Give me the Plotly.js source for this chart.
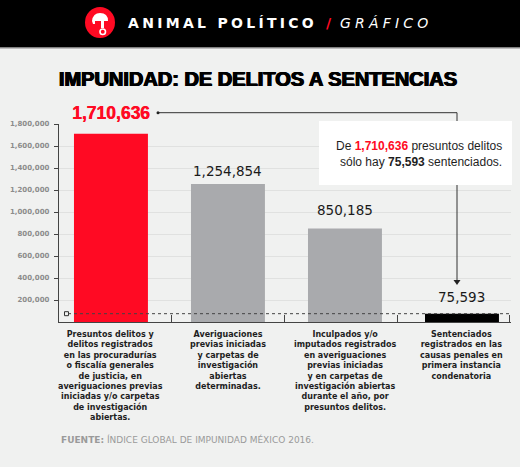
<!DOCTYPE html>
<html>
<head>
<meta charset="utf-8">
<script src="https://cdn.plot.ly/plotly-3.0.1.min.js"></script>
<style>
  html, body { margin: 0; padding: 0; background: #f0f1f0; }
  #chart { width: 520px; height: 467px; }
</style>
</head>
<body>
<div id="chart"></div>
<script>
// ---- Data ----
const CATEGORIES = [
  "Presuntos delitos y<br>delitos registrados<br>en las procuradurías<br>o fiscalía generales<br>de justicia, en<br>averiguaciones previas<br>iniciadas y/o carpetas<br>de investigación<br>abiertas.",
  "Averiguaciones<br>previas iniciadas<br>y carpetas de<br>investigación<br>abiertas<br>determinadas.",
  "Inculpados y/o<br>imputados registrados<br>en averiguaciones<br>previas iniciadas<br>y en carpetas de<br>investigación abiertas<br>durante el año, por<br>presuntos delitos.",
  "Sentenciados<br>registrados en las<br>causas penales en<br>primera instancia<br>condenatoria"
];
const VALUES = [1710636, 1254854, 850185, 75593];
const Y_TICKS = [200000, 400000, 600000, 800000, 1000000, 1200000, 1400000, 1600000, 1800000];
const TITLE = "IMPUNIDAD: DE DELITOS A SENTENCIAS";
const SOURCE = "<b>FUENTE:</b> ÍNDICE GLOBAL DE IMPUNIDAD MÉXICO 2016.";

// ---- Style ----
const RED = "#ff0a23";
const BAR_COLORS = [RED, "#a9aaad", "#a9aaad", "#000000"];
const BG = "#f0f1f0";
const IDX = CATEGORIES.map((_, i) => i);
const fmt = v => v.toLocaleString("en-US");

// plot area in pixels: x 59..511, y 124..322
const PL = 59, PR = 511, PT = 124, PB = 322;
const px = x => (x - PL) / (PR - PL);
const py = y => (PB - y) / (PB - PT);

const traces = [
  {
    type: "bar",
    x: IDX,
    y: VALUES,
    width: 0.632,
    marker: { color: BAR_COLORS, line: { width: 0 } },
    hoverinfo: "skip"
  },
  {
    type: "scatter",
    mode: "markers",
    x: [-0.38],
    y: [VALUES[3]],
    marker: { symbol: "square-open", size: 4, color: "#333", line: { width: 1, color: "#333" } },
    hoverinfo: "skip"
  }
];

const labelShift = [21, 13, 18, 17];
const valueAnnotations = VALUES.map((v, i) => ({
  x: IDX[i], y: v, xref: "x", yref: "y",
  text: i === 0 ? "<b>" + fmt(v) + "</b>" : fmt(v),
  showarrow: false, yanchor: "middle", yshift: labelShift[i],
  font: i === 0
    ? { family: "Liberation Sans, Arial, sans-serif", size: 17.5, color: RED, shadow: "0.5px 0 0 " + RED }
    : { family: "DejaVu Sans, sans-serif", size: 13.5, color: "#1a1a1a" }
}));

const catAnnotations = CATEGORIES.map((c, i) => ({
  x: IDX[i], y: py(328), xref: "x", yref: "paper",
  text: "<b>" + c + "</b>", showarrow: false, yanchor: "top", xanchor: "center", align: "center",
  font: { family: "DejaVu Sans, sans-serif", size: 8, color: "#1e1e1e" }
}));

const otherAnnotations = [
  {
    xref: "paper", yref: "paper", x: px(126), y: py(23), xanchor: "left", yanchor: "middle",
    showarrow: false,
    text: '<b><span style="letter-spacing:3.3px">ANIMAL POLÍTICO</span></b>' +
          '  <span style="color:' + RED + '"><b>/</b></span>  ' +
          '<i><span style="letter-spacing:4.2px">GRÁFICO</span></i>',
    font: { family: "DejaVu Sans, sans-serif", size: 14, color: "#ffffff" }
  },
  {
    xref: "paper", yref: "paper", x: px(504), y: py(154), xanchor: "right", yanchor: "middle",
    showarrow: false, align: "right",
    text: 'De <b><span style="color:' + RED + '">' + fmt(VALUES[0]) + '</span></b> presuntos delitos<br>sólo hay <b>' + fmt(VALUES[3]) + '</b> sentenciados.',
    font: { family: "Liberation Sans, Arial, sans-serif", size: 12, color: "#1e1e1e" }
  },
  {
    xref: "paper", yref: "paper", x: px(59), y: py(439), xanchor: "left", yanchor: "middle",
    showarrow: false, text: SOURCE,
    font: { family: "DejaVu Sans, sans-serif", size: 9, color: "#9a9a9a" }
  }
];

const P = (x, y) => px(x) + "," + py(y);
const shapes = [
  // header band
  { type: "rect", xref: "paper", yref: "paper", x0: px(-5), x1: px(525), y0: py(47.5), y1: py(-5),
    fillcolor: "#000", line: { width: 0 }, layer: "below" },
  { type: "line", xref: "paper", yref: "paper", x0: px(-5), x1: px(525), y0: py(48), y1: py(48),
    line: { color: "#8a8a8a", width: 1 } },
  // logo
  { type: "circle", xref: "paper", yref: "paper", x0: px(85), x1: px(115), y0: py(38), y1: py(7),
    fillcolor: RED, line: { width: 0 } },
  { type: "path", xref: "paper", yref: "paper",
    path: "M" + P(92, 21) + " Q" + P(93, 13) + " " + P(100, 13) + " Q" + P(108, 13) + " " + P(108, 21) +
          " L" + P(104, 21) + " L" + P(104, 28) + " L" + P(101, 28) + " L" + P(101, 21) + " L" + P(95, 21) + " L" + P(95, 24) + " L" + P(93, 24) + " Z",
    fillcolor: "#fff", line: { width: 0 } },
  { type: "circle", xref: "paper", yref: "paper", x0: px(100), x1: px(105.5), y0: py(34.5), y1: py(29),
    fillcolor: "rgba(0,0,0,0)", line: { color: "#fff", width: 1.6 } },
  // dashed reference line at the sentenced level
  { type: "line", xref: "paper", yref: "y", x0: px(68), x1: 1, y0: VALUES[3], y1: VALUES[3],
    line: { color: "#444", width: 1, dash: "dot" } },
  // connector from the top label to the last bar
  { type: "path", xref: "paper", yref: "paper",
    path: "M" + P(158, 112.7) + " L" + P(457, 112.7) + " L" + P(457, 281),
    line: { color: "#333", width: 1 } },
  { type: "circle", xref: "paper", yref: "paper", x0: px(156.5), x1: px(159.5), y0: py(114.2), y1: py(111.2),
    fillcolor: "#222", line: { width: 0 } },
  { type: "path", xref: "paper", yref: "paper",
    path: "M" + P(453.5, 280) + " L" + P(460.5, 280) + " L" + P(457, 285) + " Z",
    fillcolor: "#222", line: { width: 0 } },
  // white callout box
  { type: "rect", xref: "paper", yref: "paper", x0: px(319), x1: px(512), y0: py(185), y1: py(121),
    fillcolor: "#ffffff", line: { width: 0 } }
];

const layout = {
  width: 520, height: 467,
  margin: { l: PL, r: 520 - PR, t: PT, b: 467 - PB, pad: 0 },
  paper_bgcolor: BG, plot_bgcolor: BG,
  showlegend: false,
  title: {
    text: "<b>" + TITLE + "</b>",
    x: 258 / 520, xanchor: "center", y: 1 - 79 / 467, yanchor: "middle",
    font: { family: "Liberation Sans, Arial, sans-serif", size: 20, color: "#000",
            shadow: "0.7px 0 0 #000, -0.7px 0 0 #000, 0 0.4px 0 #000" }
  },
  xaxis: {
    range: [-0.444, 3.419],
    showgrid: false, zeroline: false,
    showline: true, linecolor: "#444", linewidth: 1.2,
    tickmode: "array", tickvals: [0.52, 1.48, 2.45, 3.405],
    ticks: "inside", ticklen: 7, tickcolor: "#444", tickwidth: 1,
    showticklabels: false, fixedrange: true
  },
  yaxis: {
    range: [0, 1800000],
    tickmode: "array", tickvals: Y_TICKS, ticktext: Y_TICKS.map(fmt),
    showgrid: true, gridcolor: "#e0e1e0", gridwidth: 1,
    zeroline: false, showline: true, linecolor: "#444", linewidth: 1.2,
    ticks: "outside", ticklen: 4, tickcolor: "#444",
    ticklabelstandoff: 3,
    tickfont: { family: "DejaVu Sans, sans-serif", size: 7, color: "#8c8c8c", weight: "bold" },
    fixedrange: true
  },
  shapes: shapes,
  annotations: valueAnnotations.concat(catAnnotations, otherAnnotations)
};

Plotly.newPlot("chart", traces, layout, { displayModeBar: false, staticPlot: true });
</script>
</body>
</html>
